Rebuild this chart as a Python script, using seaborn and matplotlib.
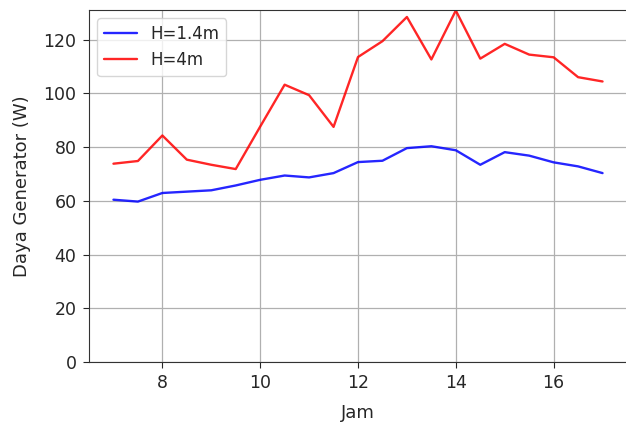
import matplotlib
matplotlib.use("Agg")
import matplotlib.pyplot as plt
import seaborn as sns
import pandas as pd

jam = [7, 7.5, 8, 8.5, 9, 9.5, 10, 10.5, 11, 11.5, 12, 12.5, 13, 13.5, 14, 14.5, 15, 15.5, 16, 16.5, 17]
h14 = [60.4, 59.7, 62.9, 63.4, 63.9, 65.7, 67.8, 69.4, 68.7, 70.3, 74.4, 74.9, 79.6, 80.3, 78.8, 73.4, 78.1, 76.8, 74.3, 72.8, 70.3]
h4 = [73.8, 74.8, 84.3, 75.3, 73.4, 71.8, 87.6, 103.2, 99.3, 87.5, 113.5, 119.4, 128.4, 112.6, 130.8, 112.9, 118.4, 114.4, 113.4, 106.0, 104.4]
labels = ["H=1.4m", "H=4m"]

df = pd.DataFrame({
    "Jam": jam * 2,
    "Daya": h14 + h4,
    "Series": [labels[0]] * len(jam) + [labels[1]] * len(jam),
})

sns.set_style("ticks")
plt.rcParams['font.family'] = ['DejaVu Sans']
fig = plt.figure(figsize=(6.26, 4.24), dpi=100)
ax = fig.add_axes([89/626, 62/424, 538/626, 352/424])
sns.lineplot(data=df, x="Jam", y="Daya", hue="Series",
             palette={labels[0]: "blue", labels[1]: "red"},
             alpha=0.85, linewidth=1.7, ax=ax)
ax.set_xlim(6.5, 17.5)
ax.set_ylim(0, 131)
ax.set_xticks([8, 10, 12, 14, 16])
ax.set_yticks([0, 20, 40, 60, 80, 100, 120])
ax.grid(True, color="#b0b0b0", linewidth=0.9)
ax.set_xlabel("Jam", fontsize=13, labelpad=8)
ax.set_ylabel("Daya Generator (W)", fontsize=13, labelpad=9)
ax.tick_params(labelsize=12.5, length=4.5, pad=4.5)
for s in ax.spines.values():
    s.set_color("#333333")
leg = ax.legend(loc="upper left", fontsize=12)
leg.set_title(None)
fig.savefig("out.png", dpi=100)
